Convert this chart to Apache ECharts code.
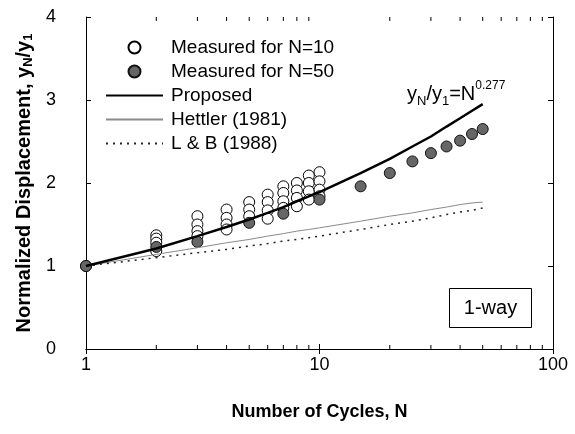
<!DOCTYPE html>
<html>
<head>
<meta charset="utf-8">
<script src="https://cdn.jsdelivr.net/npm/echarts@6/dist/echarts.min.js"></script>
<style>
  html, body { margin: 0; padding: 0; background: #fff; }
  #chart { width: 575px; height: 434px; }
</style>
</head>
<body>
<div id="chart"></div>
<script>
// Cycle counts at which the three prediction curves are evaluated
const curveN = [1, 2, 3, 4, 5, 6, 7, 8, 9, 10, 15, 20, 25, 30, 35, 40, 45, 50];
// Proposed relation yN/y1 = N^0.277
const proposedY = [1.00, 1.21, 1.36, 1.47, 1.56, 1.64, 1.71, 1.78, 1.84, 1.89,
                   2.12, 2.29, 2.44, 2.56, 2.68, 2.78, 2.87, 2.95];
// Hettler (1981)
const hettlerY = [1.00, 1.14, 1.22, 1.28, 1.32, 1.36, 1.39, 1.42, 1.44, 1.46,
                  1.54, 1.60, 1.64, 1.68, 1.71, 1.74, 1.76, 1.77];
// L & B (1988)
const lbY = [1.00, 1.10, 1.16, 1.20, 1.24, 1.27, 1.30, 1.32, 1.34, 1.36,
             1.44, 1.50, 1.54, 1.58, 1.62, 1.65, 1.67, 1.70];

// Measured, tests run to N=10
const open10N = [1, 2, 2, 2, 2, 3, 3, 3, 3, 4, 4, 4, 4, 5, 5, 5,
                 6, 6, 6, 6, 7, 7, 7, 7, 8, 8, 8, 8, 9, 9, 9, 9, 10, 10, 10, 10];
const open10Y = [1.00, 1.37, 1.33, 1.28, 1.18, 1.60, 1.50, 1.42, 1.36, 1.68, 1.58, 1.50, 1.44, 1.77, 1.68, 1.60,
                 1.86, 1.77, 1.67, 1.57, 1.96, 1.88, 1.78, 1.70, 2.00, 1.91, 1.82, 1.72, 2.09, 2.00, 1.90, 1.80,
                 2.13, 2.02, 1.92, 1.84];

// Measured, tests run to N=50
const filled50N = [1, 2, 3, 5, 7, 10, 15, 20, 25, 30, 35, 40, 45, 50];
const filled50Y = [1.00, 1.23, 1.29, 1.52, 1.63, 1.80, 1.96, 2.12, 2.26, 2.36, 2.44, 2.51, 2.59, 2.65];

// Axis ranges and ticks
const xRange = [1, 100];
const xMinorTicks = [2, 3, 4, 5, 6, 7, 8, 9, 20, 30, 40, 50, 60, 70, 80, 90];
const yRange = [0, 4];
const yStep = 1;

const FONT = "'Liberation Sans', Arial, sans-serif";
const zip = (xs, ys) => xs.map((x, i) => [x, ys[i]]);
const noMarker = { color: 'rgba(0,0,0,0)', borderColor: 'rgba(0,0,0,0)', borderWidth: 0 };

const chart = echarts.init(document.getElementById('chart'), null, { renderer: 'canvas' });

const axisLineStyle = { lineStyle: { color: '#000', width: 1 } };
const tickStyle = { show: true, inside: true, length: 5, lineStyle: { color: '#000', width: 1 } };

chart.setOption({
  animation: false,
  backgroundColor: '#fff',
  grid: { left: 86, right: 22, top: 17, bottom: 85 },
  xAxis: [
    {
      type: 'log', logBase: 10, min: xRange[0], max: xRange[1],
      position: 'bottom',
      axisLine: axisLineStyle, axisTick: tickStyle, splitLine: { show: false },
      axisLabel: { color: '#000', fontFamily: FONT, fontSize: 18, margin: 7 },
      name: 'Number of Cycles, N', nameLocation: 'middle', nameGap: 54,
      nameTextStyle: { color: '#000', fontFamily: FONT, fontSize: 18, fontWeight: 'bold' }
    },
    {
      type: 'log', logBase: 10, min: xRange[0], max: xRange[1],
      position: 'top',
      axisLine: axisLineStyle, axisTick: tickStyle, splitLine: { show: false },
      axisLabel: { show: false }
    }
  ],
  yAxis: [
    {
      type: 'value', min: yRange[0], max: yRange[1], interval: yStep,
      position: 'left',
      axisLine: { show: true, ...axisLineStyle }, axisTick: tickStyle, splitLine: { show: false },
      axisLabel: { color: '#000', fontFamily: FONT, fontSize: 18, margin: 30 },
      name: 'Normalized Displacement, y{s|N}/y{s|1}', nameLocation: 'middle', nameGap: 43,
      nameTextStyle: {
        color: '#000', fontFamily: FONT, fontSize: 20, fontWeight: 'bold',
        rich: { s: { fontFamily: FONT, fontSize: 13, fontWeight: 'bold', color: '#000', verticalAlign: 'bottom', padding: [8, 0, 0, 0] } }
      }
    },
    {
      type: 'value', min: yRange[0], max: yRange[1], interval: yStep,
      position: 'right',
      axisLine: { show: true, ...axisLineStyle }, axisTick: tickStyle, splitLine: { show: false },
      axisLabel: { show: false }
    }
  ],
  legend: {
    orient: 'vertical', left: 105, top: 38, padding: 0,
    itemWidth: 57, itemHeight: 12, itemGap: 5,
    textStyle: { color: '#000', fontFamily: FONT, fontSize: 19, lineHeight: 19, padding: [0, 0, 0, 3] },
    data: [
      'Measured for N=10',
      'Measured for N=50',
      { name: 'Proposed', itemStyle: noMarker },
      { name: 'Hettler (1981)', itemStyle: noMarker },
      { name: 'L & B (1988)', itemStyle: noMarker }
    ]
  },
  series: [
    {
      type: 'custom', silent: true, clip: false, z: 5,
      data: xMinorTicks.map(n => [n, 0]),
      renderItem: (params, api) => {
        const n = api.value(0);
        const b = api.coord([n, yRange[0]]);
        const t = api.coord([n, yRange[1]]);
        return {
          type: 'group',
          children: [
            { type: 'line', shape: { x1: b[0], y1: b[1], x2: b[0], y2: b[1] - 4 }, style: { stroke: '#000', lineWidth: 1 } },
            { type: 'line', shape: { x1: t[0], y1: t[1], x2: t[0], y2: t[1] + 4 }, style: { stroke: '#000', lineWidth: 1 } }
          ]
        };
      }
    },
    {
      name: 'Hettler (1981)', type: 'line', symbol: 'none', showSymbol: false,
      data: zip(curveN, hettlerY),
      lineStyle: { color: '#8a8a8a', width: 1 }, itemStyle: { color: '#8a8a8a' }
    },
    {
      name: 'L & B (1988)', type: 'line', symbol: 'none', showSymbol: false,
      data: zip(curveN, lbY),
      lineStyle: { color: '#222', width: 1.5, type: [2, 5] }, itemStyle: { color: '#222' }
    },
    {
      name: 'Proposed', type: 'line', symbol: 'none', showSymbol: false,
      data: zip(curveN, proposedY),
      lineStyle: { color: '#000', width: 2.5 }, itemStyle: { color: '#000' }
    },
    {
      name: 'Measured for N=10', type: 'scatter', symbol: 'circle', symbolSize: 11,
      data: zip(open10N, open10Y),
      itemStyle: { color: '#fff', borderColor: '#000', borderWidth: 1, opacity: 1 }
    },
    {
      name: 'Measured for N=50', type: 'scatter', symbol: 'circle', symbolSize: 11,
      data: zip(filled50N, filled50Y),
      itemStyle: { color: '#666', borderColor: '#111', borderWidth: 1, opacity: 1 }
    }
  ],
  graphic: [
    {
      type: 'text', left: 407, top: 80, z: 10,
      style: {
        text: '{m|y}{s|N}{m|/y}{s|1}{m|=N}{p|0.277}',
        rich: {
          m: { fontFamily: FONT, fontSize: 20, fill: '#000', lineHeight: 28, verticalAlign: 'middle' },
          s: { fontFamily: FONT, fontSize: 13, fill: '#000', lineHeight: 28, verticalAlign: 'bottom' },
          p: { fontFamily: FONT, fontSize: 12, fill: '#000', lineHeight: 28, verticalAlign: 'top' }
        }
      }
    },
    {
      type: 'group', left: 449, top: 288, z: 10,
      children: [
        { type: 'rect', shape: { x: 0, y: 0, width: 82, height: 39 }, style: { fill: '#fff', stroke: '#000', lineWidth: 1 } },
        { type: 'text', x: 41, y: 20, style: { text: '1-way', fontFamily: FONT, fontSize: 20, fill: '#000', align: 'center', verticalAlign: 'middle' } }
      ]
    }
  ]
});
</script>
</body>
</html>
